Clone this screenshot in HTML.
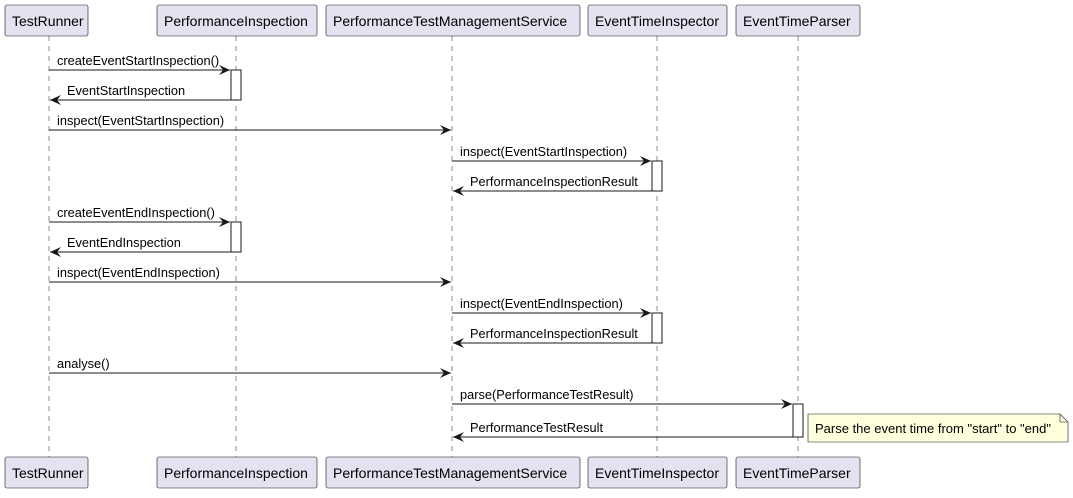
<!DOCTYPE html>
<html><head><meta charset="utf-8"><style>
html,body{margin:0;padding:0;background:#fff;}
svg text{font-family:"Liberation Sans",sans-serif;font-size:12.8px;fill:#000;}
</style></head><body>
<svg width="1073" height="493" viewBox="0 0 1073 493" xmlns="http://www.w3.org/2000/svg">
<defs>
<marker id="a" markerWidth="12" markerHeight="10" refX="11" refY="5" orient="auto" markerUnits="userSpaceOnUse">
<path d="M0,0 L11,5 L0,10 L4,5 Z" fill="#181818"/>
</marker>
</defs>
<g stroke="#181818" stroke-width="0.5" stroke-dasharray="5,5">
<line x1="49" y1="36" x2="49" y2="457"/>
<line x1="236" y1="36" x2="236" y2="457"/>
<line x1="452" y1="36" x2="452" y2="457"/>
<line x1="657" y1="36" x2="657" y2="457"/>
<line x1="798" y1="36" x2="798" y2="457"/>
</g>
<g fill="#E2E2F0" stroke="#181818" stroke-width="0.6">
<rect x="5" y="5" width="83" height="31" rx="2"/>
<rect x="157" y="5" width="160" height="31" rx="2"/>
<rect x="326" y="5" width="254" height="31" rx="2"/>
<rect x="588" y="5" width="139" height="31" rx="2"/>
<rect x="736" y="5" width="124" height="31" rx="2"/>
<rect x="5" y="457" width="83" height="31" rx="2"/>
<rect x="157" y="457" width="160" height="31" rx="2"/>
<rect x="326" y="457" width="254" height="31" rx="2"/>
<rect x="588" y="457" width="139" height="31" rx="2"/>
<rect x="736" y="457" width="124" height="31" rx="2"/>
</g>
<g>
<text x="12" y="26" style="font-size:14px">TestRunner</text>
<text x="164" y="26" style="font-size:14px">PerformanceInspection</text>
<text x="333" y="26" style="font-size:14px">PerformanceTestManagementService</text>
<text x="595" y="26" style="font-size:14px">EventTimeInspector</text>
<text x="743" y="26" style="font-size:14px">EventTimeParser</text>
<text x="12" y="478" style="font-size:14px">TestRunner</text>
<text x="164" y="478" style="font-size:14px">PerformanceInspection</text>
<text x="333" y="478" style="font-size:14px">PerformanceTestManagementService</text>
<text x="595" y="478" style="font-size:14px">EventTimeInspector</text>
<text x="743" y="478" style="font-size:14px">EventTimeParser</text>
</g>
<g fill="#fff" stroke="#181818" stroke-width="1">
<rect x="231" y="70" width="10" height="30"/>
<rect x="652" y="161" width="10" height="30"/>
<rect x="231" y="222" width="10" height="30"/>
<rect x="652" y="313" width="10" height="30"/>
<rect x="793" y="404" width="10" height="33"/>
</g>
<g stroke="#181818" stroke-width="1" marker-end="url(#a)">
<line x1="49" y1="70" x2="230" y2="70"/>
<line x1="231" y1="100" x2="50" y2="100"/>
<line x1="49" y1="130" x2="451" y2="130"/>
<line x1="452" y1="161" x2="651" y2="161"/>
<line x1="652" y1="191" x2="453" y2="191"/>
<line x1="49" y1="222" x2="230" y2="222"/>
<line x1="231" y1="252" x2="50" y2="252"/>
<line x1="49" y1="282" x2="451" y2="282"/>
<line x1="452" y1="313" x2="651" y2="313"/>
<line x1="652" y1="343" x2="453" y2="343"/>
<line x1="49" y1="373" x2="451" y2="373"/>
<line x1="452" y1="404" x2="792" y2="404"/>
<line x1="793" y1="437" x2="453" y2="437"/>
</g>
<text x="57" y="65">createEventStartInspection()</text>
<text x="67" y="95">EventStartInspection</text>
<text x="57" y="125">inspect(EventStartInspection)</text>
<text x="460" y="156">inspect(EventStartInspection)</text>
<text x="470" y="186">PerformanceInspectionResult</text>
<text x="57" y="217">createEventEndInspection()</text>
<text x="67" y="247">EventEndInspection</text>
<text x="57" y="277">inspect(EventEndInspection)</text>
<text x="460" y="308">inspect(EventEndInspection)</text>
<text x="470" y="338">PerformanceInspectionResult</text>
<text x="57" y="368">analyse()</text>
<text x="460" y="399">parse(PerformanceTestResult)</text>
<text x="470" y="432">PerformanceTestResult</text>
<path d="M808,414 L1060,414 L1068,422 L1068,442 L808,442 Z" fill="#FEFFDD" stroke="#181818" stroke-width="0.6"/>
<path d="M1060,414 L1060,422 L1068,422" fill="none" stroke="#181818" stroke-width="0.6"/>
<text x="815" y="433" style="font-size:13px">Parse the event time from "start" to "end"</text>
</svg>
</body></html>
